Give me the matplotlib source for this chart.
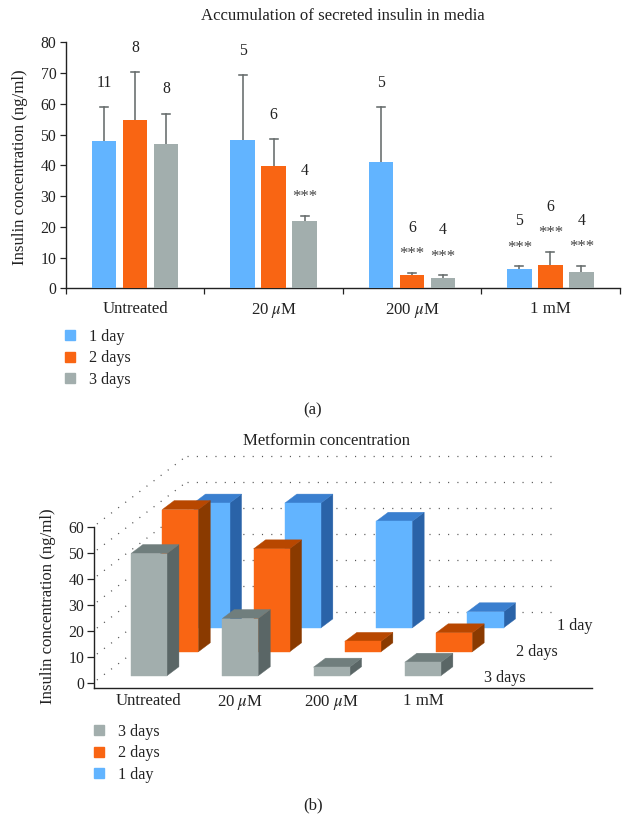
import matplotlib
matplotlib.use("Agg")
import matplotlib.pyplot as plt
from matplotlib.patches import Patch, Polygon

plt.rcParams['font.family'] = ['Liberation Serif', 'DejaVu Serif']
plt.rcParams['mathtext.fontset'] = 'stix'
plt.rcParams['lines.scale_dashes'] = False

W, H = 630, 838
categories = ["Untreated", "20 $\\mu$M", "200 $\\mu$M", "1 mM"]
days = ["1 day", "2 days", "3 days"]
means = {
    "1 day": [47.8, 48.1, 41.2, 6.2],
    "2 days": [54.7, 39.8, 4.3, 7.5],
    "3 days": [47.0, 22.0, 3.3, 5.2],
}
err_top = {
    "1 day": [59.0, 69.3, 59.0, 7.1],
    "2 days": [70.2, 48.4, 5.0, 11.8],
    "3 days": [56.8, 23.6, 4.2, 7.2],
}
n_labels = {
    "1 day": [11, 5, 5, 5],
    "2 days": [8, 6, 6, 6],
    "3 days": [8, 4, 4, 4],
}
stars = {
    "1 day": [0, 0, 0, 1],
    "2 days": [0, 0, 1, 1],
    "3 days": [0, 1, 1, 1],
}
heights_3d = {
    "3 days": [47.0, 22.0, 3.3, 5.2],
    "2 days": [54.7, 39.6, 4.0, 7.3],
    "1 day": [48.0, 48.0, 41.0, 6.2],
}
yticks_a = list(range(0, 90, 10))
yticks_b = list(range(0, 70, 10))

front = {"1 day": "#62B4FF", "2 days": "#F96513", "3 days": "#A2AEAD"}
top = {"1 day": "#3A7FCF", "2 days": "#B84700", "3 days": "#707E7D"}
side = {"1 day": "#2A63A8", "2 days": "#8A3A00", "3 days": "#5A6666"}
INK = "#222222"
ERR = "#666C6C"
FS = 12.1
FS_TICK = 11.3
FS_LEG = 11.6


def place(left, right, top_px, bottom_px):
    return [left / W, 1 - bottom_px / H, (right - left) / W, (bottom_px - top_px) / H]


def ftext(x, y, s, **kw):
    kw.setdefault("ha", "center")
    kw.setdefault("va", "center")
    kw.setdefault("fontsize", FS)
    kw.setdefault("color", INK)
    fig.text(x / W, 1 - y / H, s, **kw)


fig = plt.figure(figsize=(W / 100, H / 100), dpi=100, facecolor="white")

# ---------- panel (a)
ax = fig.add_axes(place(66, 619.6, 42.3, 288.3))
step, width = 0.224, 0.176
for i, d in enumerate(days):
    xs = [c + (i - 1) * step for c in range(4)]
    ax.bar(xs, means[d], width, color=front[d], zorder=3)
    for x, m, e, n, s in zip(xs, means[d], err_top[d], n_labels[d], stars[d]):
        ax.plot([x, x], [m, e], color=ERR, lw=1.15, zorder=2)
        ax.plot([x - 0.029, x + 0.029], [e, e], color=ERR, lw=1.15, zorder=2)
        if s:
            ax.annotate("***", (x, e), xytext=(0, 13.5), textcoords="offset points",
                        ha="center", va="center", fontsize=FS, color="#444444")
            ax.annotate(str(n), (x, e), xytext=(0, 32.5), textcoords="offset points",
                        ha="center", va="center", fontsize=FS_TICK, color=INK)
        else:
            ax.annotate(str(n), (x, e), xytext=(0, 17.5), textcoords="offset points",
                        ha="center", va="center", fontsize=FS_TICK, color=INK)
ax.set_xlim(-0.5, 3.5)
ax.set_ylim(0, 80)
ax.set_yticks(yticks_a)
ax.set_xticks([-0.5, 0.5, 1.5, 2.5, 3.5])
ax.set_xticklabels([])
ax.set_xticks(range(4), minor=True)
ax.set_xticklabels(categories, minor=True, fontsize=FS, color=INK)
ax.tick_params(axis="x", which="minor", length=0, pad=9)
ax.tick_params(axis="x", which="major", length=4, width=0.9, color=INK)
ax.tick_params(axis="y", length=4, width=0.9, color=INK, labelsize=FS_TICK, labelcolor=INK, pad=3)
for sp in ("top", "right"):
    ax.spines[sp].set_visible(False)
for sp in ("left", "bottom"):
    ax.spines[sp].set_linewidth(1.0)
    ax.spines[sp].set_color(INK)
ftext(343, 16, "Accumulation of secreted insulin in media")
ftext(20, 167, "Insulin concentration (ng/ml)", rotation=90)
ax.legend(handles=[Patch(color=front[d], label=d) for d in days],
          loc="upper left", bbox_to_anchor=(65 / W, 1 - 329 / H),
          bbox_transform=fig.transFigure, frameon=False, fontsize=FS_LEG,
          handlelength=0.6, handleheight=0.6, handletextpad=0.9,
          labelspacing=0.33, borderpad=0, borderaxespad=0, labelcolor=INK)
ftext(313, 410.5, "(a)")

# ---------- panel (b)
bx = fig.add_axes(place(94, 592, 527, 688))
bx.patch.set_alpha(0)
bx.set_xlim(-0.602, 4.852)
bx.set_ylim(-1.92, 60)
for v in yticks_b:
    bx.plot([-0.57, 0.416], [v + 1.15, v + 27.4], color="#555555", lw=0.9,
            ls=(0, (0.8, 5.6)), clip_on=False, zorder=1)
    bx.plot([0.416, 4.45], [v + 27.4, v + 27.4], color="#555555", lw=0.9,
            ls=(0, (0.8, 5.9)), clip_on=False, zorder=1)

bw = 36 / 91.3
dx, dy = 0.131, 3.46
layer_x, layer_y = 31.3 / 91.3, 9.2
floor = 2.8
z = 2
for depth, d in sorted(enumerate(["3 days", "2 days", "1 day"]), reverse=True):
    for c, h in reversed(list(enumerate(heights_3d[d]))):
        x0 = c - bw / 2 + depth * layer_x
        x1 = x0 + bw
        y0 = floor + depth * layer_y
        y1 = y0 + h
        faces = [
            ([(x1, y0), (x1 + dx, y0 + dy), (x1 + dx, y1 + dy), (x1, y1)], side[d]),
            ([(x0, y1), (x1, y1), (x1 + dx, y1 + dy), (x0 + dx, y1 + dy)], top[d]),
            ([(x0, y0), (x1, y0), (x1, y1), (x0, y1)], front[d]),
        ]
        for pts, col in faces:
            bx.add_patch(Polygon(pts, closed=True, facecolor=col, edgecolor=col,
                                 lw=0.3, clip_on=False, zorder=z))
        z += 1

bx.set_yticks(yticks_b)
bx.set_xticks(range(4))
bx.set_xticklabels(categories, fontsize=FS, color=INK)
bx.tick_params(axis="x", length=0, pad=3.5)
bx.tick_params(axis="y", length=5, width=0.9, color=INK, labelsize=FS_TICK, labelcolor=INK, pad=2)
for sp in ("top", "right"):
    bx.spines[sp].set_visible(False)
for sp in ("left", "bottom"):
    bx.spines[sp].set_linewidth(1.0)
    bx.spines[sp].set_color(INK)
ftext(326.5, 441, "Metformin concentration")
ftext(48, 606, "Insulin concentration (ng/ml)", rotation=90)
ftext(557, 626, "1 day", ha="left", fontsize=FS_LEG)
ftext(516, 652, "2 days", ha="left", fontsize=FS_LEG)
ftext(484, 678, "3 days", ha="left", fontsize=FS_LEG)
order_b = ["3 days", "2 days", "1 day"]
bx.legend(handles=[Patch(color=front[d], label=d) for d in order_b],
          loc="upper left", bbox_to_anchor=(94 / W, 1 - 724 / H),
          bbox_transform=fig.transFigure, frameon=False, fontsize=FS_LEG,
          handlelength=0.6, handleheight=0.6, handletextpad=0.9,
          labelspacing=0.33, borderpad=0, borderaxespad=0, labelcolor=INK)
ftext(313, 805, "(b)")

fig.savefig("out.png", dpi=100, facecolor="white")
